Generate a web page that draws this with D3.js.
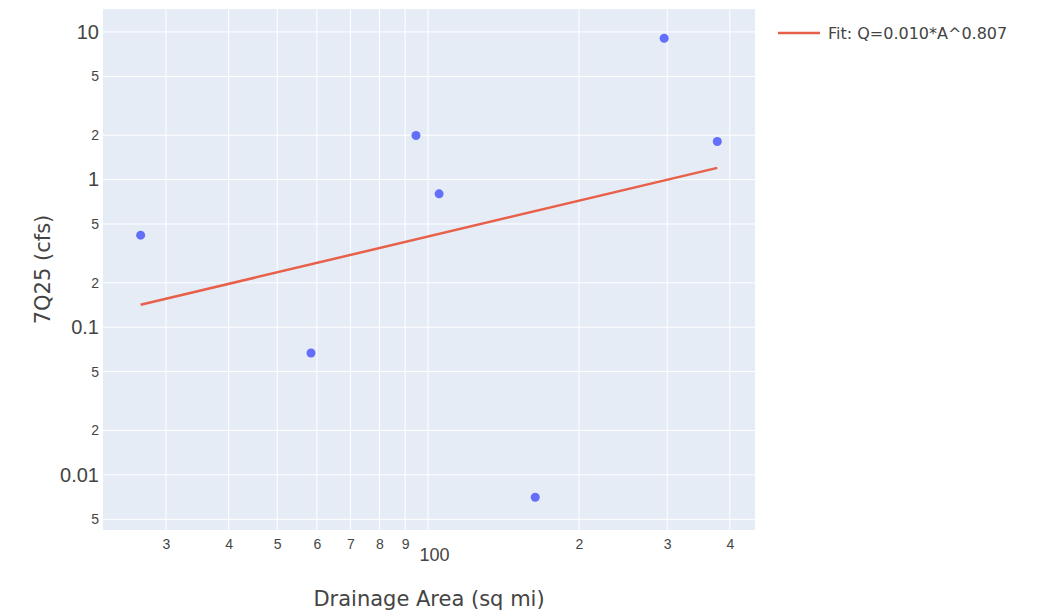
<!DOCTYPE html>
<html>
<head>
<meta charset="utf-8">
<script src="https://cdn.jsdelivr.net/npm/d3@7"></script>
<style>
  body { margin: 0; background: #fff; }
  svg { font-family: "DejaVu Sans", sans-serif; }
</style>
</head>
<body>
<svg id="chart" width="1044" height="616"></svg>
<script>
// data
const areas = [26.7, 58.4, 94.6, 105.2, 163.6, 295.8, 377.6];
const flows = [0.42, 0.0669, 1.99, 0.80, 0.00705, 9.06, 1.81];
const fitAreas = [26.7, 377.6];
const fitFlows = [0.142, 1.20];
const fitLabel = "Fit: Q=0.010*A^0.807";

const xTicks = [30, 40, 50, 60, 70, 80, 90, 100, 200, 300, 400];
const yTicks = [0.005, 0.01, 0.02, 0.05, 0.1, 0.2, 0.5, 1, 2, 5, 10];

const svg = d3.select("#chart");
const margin = { top: 9, right: 289, bottom: 86, left: 103 };
const innerWidth = 1044 - margin.left - margin.right;
const innerHeight = 616 - margin.top - margin.bottom;

const x = d3.scaleLog().domain([22.46, 449]).range([0, innerWidth]);
const y = d3.scaleLog().domain([0.00423, 14.3]).range([innerHeight, 0]);

const isMajor = v => Math.abs(Math.log10(v) - Math.round(Math.log10(v))) < 1e-9;
const firstDigit = v => String(Math.round(v / Math.pow(10, Math.floor(Math.log10(v) + 1e-9))));

const g = svg.append("g").attr("transform", `translate(${margin.left},${margin.top})`);

g.append("rect")
    .attr("width", innerWidth)
    .attr("height", innerHeight)
    .attr("fill", "#e5ecf6");

// grid lines
g.append("g")
    .selectAll("line")
    .data(xTicks)
    .join("line")
    .attr("x1", d => x(d)).attr("x2", d => x(d))
    .attr("y1", 0).attr("y2", innerHeight)
    .attr("stroke", "#fff").attr("stroke-width", 1);

g.append("g")
    .selectAll("line")
    .data(yTicks)
    .join("line")
    .attr("x1", 0).attr("x2", innerWidth)
    .attr("y1", d => y(d)).attr("y2", d => y(d))
    .attr("stroke", "#fff").attr("stroke-width", 1);

// x axis labels (the decade label sits lower and a bit to the right)
const xAxis = d3.axisBottom(x).tickValues(xTicks).tickSize(0).tickPadding(0)
    .tickFormat(d => isMajor(d) ? d3.format("d")(d) : firstDigit(d));
const xg = g.append("g").attr("transform", `translate(0,${innerHeight})`).call(xAxis);
xg.select(".domain").remove();
xg.selectAll("text")
    .attr("fill", "#444")
    .attr("dy", null)
    .attr("x", d => isMajor(d) ? 6 : 0)
    .attr("y", d => isMajor(d) ? 31 : 19)
    .style("font-size", d => isMajor(d) ? "18px" : "14px");

// y axis labels
const yAxis = d3.axisLeft(y).tickValues(yTicks).tickSize(0).tickPadding(4)
    .tickFormat(d => isMajor(d) ? String(d) : firstDigit(d));
const yg = g.append("g").call(yAxis);
yg.select(".domain").remove();
yg.selectAll("text")
    .attr("fill", "#444")
    .attr("x", -4)
    .style("font-size", d => isMajor(d) ? "20px" : "14px");

// fit line
const line = d3.line().x(d => x(d[0])).y(d => y(d[1]));
g.append("path")
    .datum(d3.zip(fitAreas, fitFlows))
    .attr("fill", "none")
    .attr("stroke", "#e8604a")
    .attr("stroke-width", 2.5)
    .attr("d", line);

// points
g.selectAll(".pt")
    .data(d3.zip(areas, flows))
    .join("circle")
    .attr("class", "pt")
    .attr("cx", d => x(d[0]))
    .attr("cy", d => y(d[1]))
    .attr("r", 4.5)
    .attr("fill", "#636efa");

// axis titles
svg.append("text")
    .attr("x", margin.left + innerWidth / 2)
    .attr("y", 606)
    .attr("text-anchor", "middle")
    .attr("fill", "#444")
    .style("font-size", "21px")
    .text("Drainage Area (sq mi)");

svg.append("text")
    .attr("transform", `translate(50,${margin.top + innerHeight / 2}) rotate(-90)`)
    .attr("text-anchor", "middle")
    .attr("fill", "#444")
    .style("font-size", "21px")
    .text("7Q25 (cfs)");

// legend
const lg = svg.append("g").attr("transform", "translate(778,33)");
lg.append("line")
    .attr("x1", 0).attr("x2", 42)
    .attr("stroke", "#e8604a").attr("stroke-width", 2.5);
lg.append("text")
    .attr("x", 50).attr("dy", "0.35em")
    .attr("fill", "#444")
    .style("font-size", "16px")
    .text(fitLabel);
</script>
</body>
</html>
